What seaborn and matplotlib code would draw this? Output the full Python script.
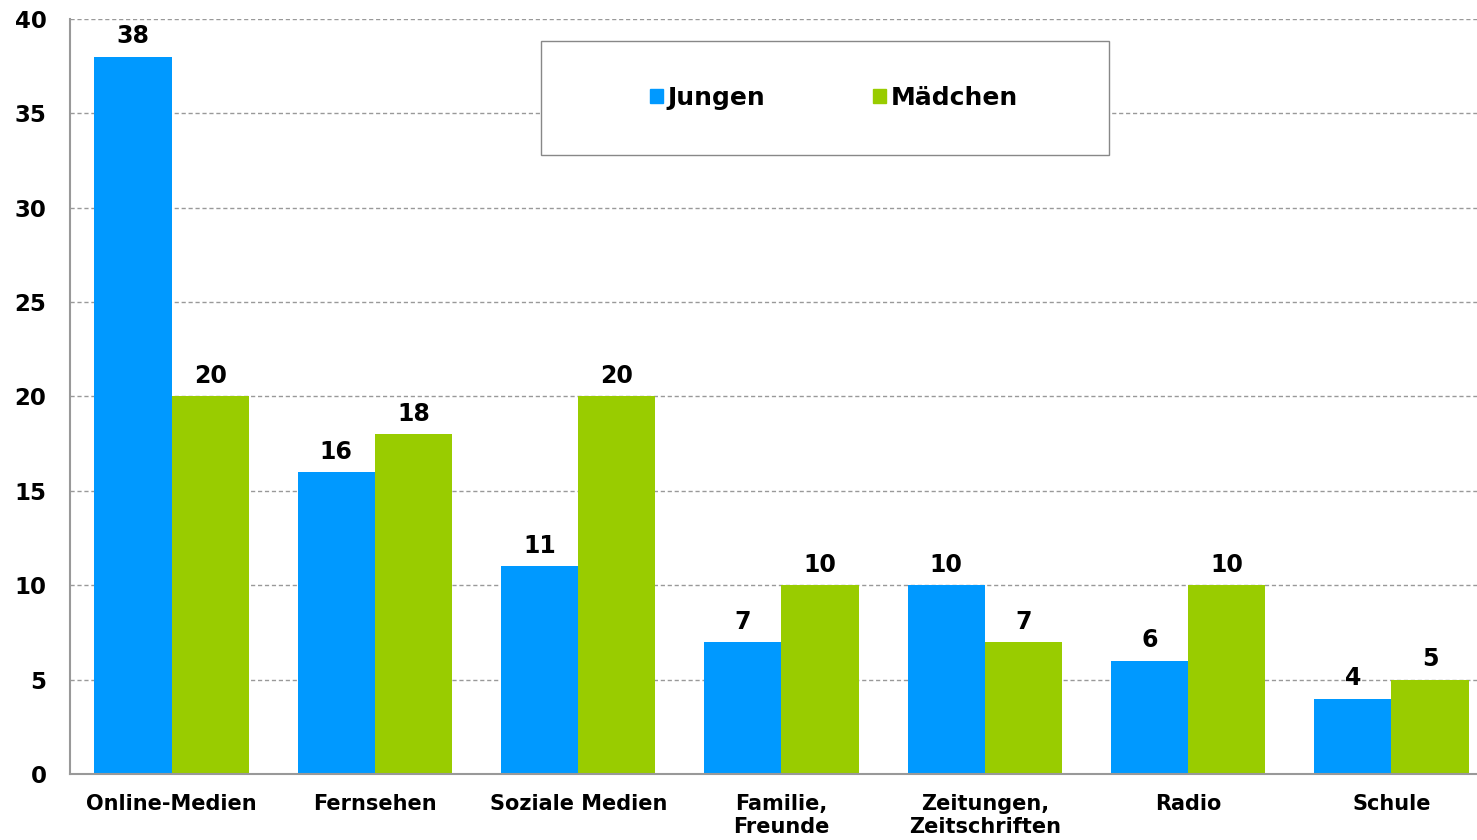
import pandas as pd
import numpy as np
import matplotlib
matplotlib.use("Agg")
import matplotlib.pyplot as plt
import seaborn as sns
from matplotlib.patches import Rectangle

categories = ["Online-Medien", "Fernsehen", "Soziale Medien", "Familie,\nFreunde",
              "Zeitungen,\nZeitschriften", "Radio", "Schule"]
jungen = [38, 16, 11, 7, 10, 6, 4]
maedchen = [20, 18, 20, 10, 7, 10, 5]
series = ["Jungen", "Mädchen"]
colors = ["#0099FF", "#99CC00"]

df = pd.DataFrame({
    "Kategorie": categories * 2,
    "Wert": jungen + maedchen,
    "Gruppe": ["Jungen"] * len(categories) + ["Mädchen"] * len(categories),
})

sns.set_style("white")
plt.rcParams["font.family"] = ["DejaVu Sans"]
plt.rcParams["font.weight"] = "bold"
plt.rcParams["text.color"] = "black"
plt.rcParams["xtick.color"] = "black"
plt.rcParams["ytick.color"] = "black"

fig = plt.figure(figsize=(14.77, 8.4), dpi=100)
ax = fig.add_axes([70 / 1477, 1 - 774 / 840, 1423 / 1477, 755 / 840])

sns.barplot(data=df, x="Kategorie", y="Wert", hue="Gruppe", order=categories,
            hue_order=series, palette=colors, width=0.76, gap=0,
            saturation=1, ax=ax, legend=False, linewidth=0)

# Werte über den Balken
for cont in ax.containers:
    ax.bar_label(cont, fmt="%d", padding=6, fontsize=17, fontweight="bold", color="black")

ax.set_ylim(0, 40)
ax.set_xlim(-0.5, len(categories) - 0.5)
ax.set_yticks(range(0, 41, 5))
ax.set_yticklabels([str(v) for v in range(0, 41, 5)], fontsize=16.5, fontweight="bold")
ax.set_xticks(range(len(categories)))
ax.set_xticklabels(categories, fontsize=15, fontweight="bold")
ax.set_xticks(np.arange(-0.5, len(categories), 1), minor=True)
ax.tick_params(axis="x", which="major", length=0, pad=14.5)
ax.tick_params(axis="x", which="minor", length=5, color="#999999", width=1.2)
ax.tick_params(axis="y", length=5, color="#999999", width=1.2, pad=12)
ax.set_xlabel("")
ax.set_ylabel("")

ax.yaxis.grid(True, linestyle=(0, (3, 2)), color="#999999", linewidth=1)
ax.set_axisbelow(True)
for s in ["top", "right"]:
    ax.spines[s].set_visible(False)
for s in ["left", "bottom"]:
    ax.spines[s].set_color("#999999")
    ax.spines[s].set_linewidth(1.5)

# Legende mit Rahmen
fig.patches.append(Rectangle((541 / 1477, 1 - 155 / 840), 568 / 1477, 114 / 840,
                             transform=fig.transFigure, facecolor="white",
                             edgecolor="#888888", linewidth=1, zorder=5))
handles = [Rectangle((0, 0), 1, 1, color=c) for c in colors]
leg = fig.legend(handles, series, loc="center", bbox_to_anchor=(834 / 1477, 1 - 98 / 840),
                 ncol=2, frameon=False, handlelength=0.52, handleheight=0.52,
                 handletextpad=0.2, columnspacing=4.3,
                 prop={"size": 18, "weight": "bold"})
leg.set_zorder(6)

fig.savefig("out.png", dpi=100)
